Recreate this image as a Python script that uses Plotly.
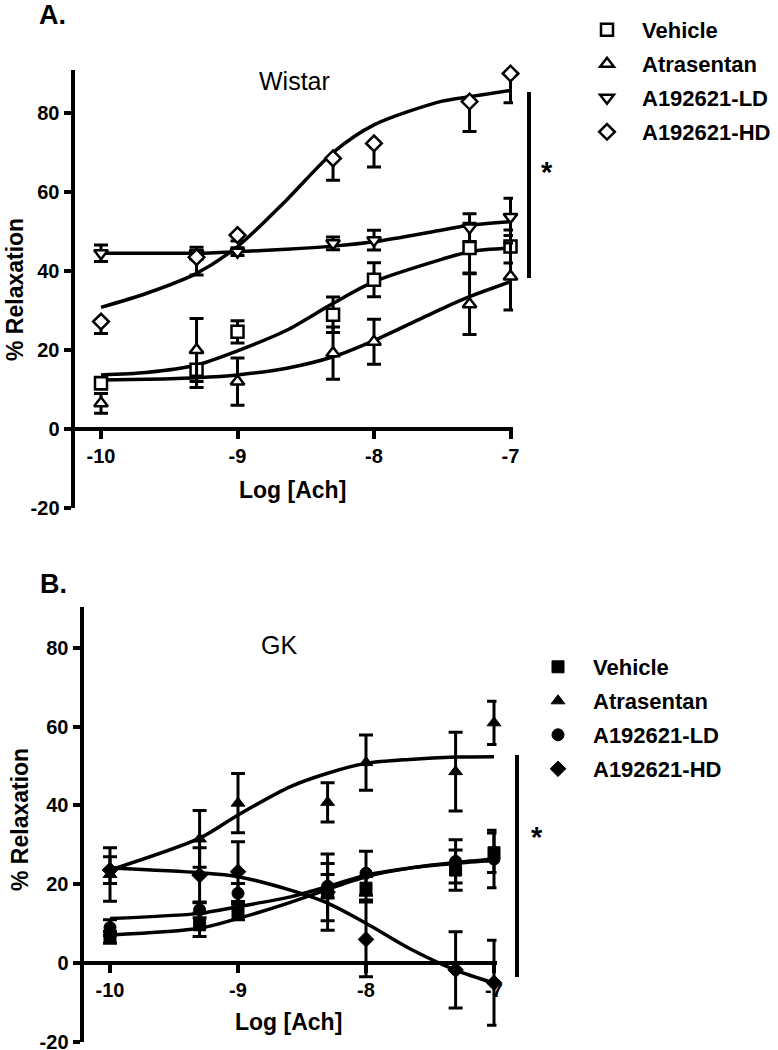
import plotly.graph_objects as go

W, H = 778, 1050
FONT = "Liberation Sans, Arial, Helvetica, sans-serif"

# ------------------------------------------------------------------ data
log_ach = [-10, -9.3, -9, -8.3, -8, -7.3, -7]
series_names = ["Vehicle", "Atrasentan", "A192621-LD", "A192621-HD"]
x_tickvals = [-10, -9, -8, -7]
x_ticktext = ["-10", "-9", "-8", "-7"]
y_tickvals = [-20, 0, 20, 40, 60, 80]
y_ticktext = ["-20", "0", "20", "40", "60", "80"]

# Panel A (Wistar): mean % relaxation and SEM
wistar_vehicle = [11.6, 15.0, 24.6, 28.9, 37.8, 45.8, 46.2]
wistar_vehicle_err = [1.5, 4.5, 2.8, 4.5, 4.3, 6.3, 4.2]
wistar_atrasentan = [6.5, 20.0, 12.0, 19.2, 22.1, 31.6, 38.6]
wistar_atrasentan_err = [2.5, 8.0, 6.0, 6.6, 5.7, 7.7, 8.5]
wistar_ld = [44.5, 44.5, 44.9, 47.0, 47.8, 51.0, 53.7]
wistar_ld_err = [2.1, 1.5, 1.0, 1.6, 2.5, 3.5, 4.7]
wistar_hd = [27.2, 43.5, 49.1, 68.5, 72.3, 82.9, 90.0]
wistar_hd_err_minus = [3.0, 4.5, 1.5, 5.5, 6.0, 7.6, 7.4]
wistar_hd_err_plus = [0, 0, 0, 0, 0, 0, 0]

# Panel A fitted curves
fit_x_a = [-10, -9.67, -9.3, -9, -8.64, -8.3, -8, -7.5, -7.3, -7]
wistar_vehicle_fit = [13.7, 14.3, 16.2, 19.8, 25.0, 31.8, 37.3, 43.0, 44.9, 45.8]
wistar_atrasentan_fit = [12.4, 12.6, 13.0, 13.7, 15.4, 18.3, 22.4, 30.5, 33.5, 37.3]
wistar_ld_fit = [44.5, 44.5, 44.5, 44.9, 45.5, 46.3, 47.4, 50.4, 51.6, 52.5]
wistar_hd_fit = [30.8, 34.3, 39.4, 46.2, 58.0, 70.0, 77.0, 83.0, 84.1, 85.7]

# Panel B (GK): mean % relaxation and SEM
gk_vehicle = [6.5, 9.7, 13.0, 18.0, 19.0, 23.6, 28.0]
gk_vehicle_err = [1.5, 3.0, 2.0, 7.3, 3.0, 5.1, 5.0]
gk_atrasentan = [22.5, 31.5, 40.6, 40.8, 50.9, 48.6, 61.0]
gk_atrasentan_err = [6.8, 7.2, 7.5, 5.0, 7.0, 10.0, 5.5]
gk_ld = [9.0, 13.5, 17.7, 19.5, 22.8, 25.8, 26.4]
gk_ld_err = [2.0, 2.0, 2.5, 3.0, 5.6, 5.5, 7.3]
gk_hd = [23.6, 22.3, 23.2, 18.0, 6.0, -1.75, -5.0]
gk_hd_err = [3.4, 7.0, 7.6, 9.7, 9.5, 9.7, 10.8]

# Panel B fitted curves
fit_x_b = [-10, -9.3, -9, -8.59, -8.3, -8, -7.66, -7.3, -7]
gk_vehicle_fit = [7.1, 8.8, 11.3, 15.4, 18.7, 21.9, 24.1, 25.3, 26.0]
gk_atrasentan_fit = [23.6, 31.7, 37.6, 44.8, 48.2, 50.7, 51.7, 52.3, 52.4]
gk_ld_fit = [11.3, 12.6, 14.3, 16.8, 19.4, 22.3, 24.1, 25.5, 26.4]
gk_hd_fit = [24.1, 22.9, 21.9, 18.5, 15.2, 10.1, 3.7, -1.8, -5.1]

# ------------------------------------------------------------------ layout helpers (pixels -> paper)
def px(x):
    return x / W


def py(y):
    return 1 - y / H


fig = go.Figure()

open_symbols = ["square", "triangle-up", "triangle-down", "diamond"]
filled_symbols = ["square", "triangle-up", "circle", "diamond"]

# ---------------- panel A
for fit in [wistar_vehicle_fit, wistar_atrasentan_fit, wistar_ld_fit, wistar_hd_fit]:
    fig.add_trace(go.Scatter(
        x=fit_x_a, y=fit, mode="lines", xaxis="x", yaxis="y",
        line=dict(color="black", width=3.5, shape="spline", smoothing=0.8),
        showlegend=False, hoverinfo="skip"))

a_vals = [wistar_vehicle, wistar_atrasentan, wistar_ld, wistar_hd]
a_errs = [
    dict(type="data", array=wistar_vehicle_err),
    dict(type="data", array=wistar_atrasentan_err),
    dict(type="data", array=wistar_ld_err),
    dict(type="data", symmetric=False, array=wistar_hd_err_plus, arrayminus=wistar_hd_err_minus),
]
for i, name in enumerate(series_names):
    err = dict(a_errs[i], color="black", thickness=3, width=7)
    fig.add_trace(go.Scatter(
        x=log_ach, y=a_vals[i], mode="markers", name=name, xaxis="x", yaxis="y",
        marker=dict(symbol=open_symbols[i], size=12, color="white",
                    line=dict(color="black", width=2.5)),
        error_y=err, cliponaxis=False, legend="legend", legendgroup="a" + str(i)))

# ---------------- panel B
for fit in [gk_vehicle_fit, gk_atrasentan_fit, gk_ld_fit, gk_hd_fit]:
    fig.add_trace(go.Scatter(
        x=fit_x_b, y=fit, mode="lines", xaxis="x2", yaxis="y2",
        line=dict(color="black", width=3.5, shape="spline", smoothing=0.8),
        showlegend=False, hoverinfo="skip"))

b_vals = [gk_vehicle, gk_atrasentan, gk_ld, gk_hd]
b_errs = [gk_vehicle_err, gk_atrasentan_err, gk_ld_err, gk_hd_err]
for i, name in enumerate(series_names):
    fig.add_trace(go.Scatter(
        x=log_ach, y=b_vals[i], mode="markers", name=name, xaxis="x2", yaxis="y2",
        marker=dict(symbol=filled_symbols[i], size=12, color="black",
                    line=dict(color="black", width=1)),
        error_y=dict(type="data", array=b_errs[i], color="black", thickness=3, width=7),
        cliponaxis=False, legend="legend2", legendgroup="b" + str(i)))

# ---------------- axes geometry (pixels)
A = dict(left=74.5, right=513, xmin_px=101, unit_x=136.5, zero_y=429, unit_y=3.95, ytop=91)
B = dict(left=83.5, right=496.5, xmin_px=110, unit_x=128.0, zero_y=963, unit_y=3.9375, ytop=90.5)


def axes_for(g):
    xr = [-10 - (g["xmin_px"] - g["left"]) / g["unit_x"], -10 + (g["right"] - g["xmin_px"]) / g["unit_x"]]
    bottom_px = g["zero_y"] + 20 * g["unit_y"]
    top_px = g["zero_y"] - g["ytop"] * g["unit_y"]
    return xr, [px(g["left"]), px(g["right"])], [py(bottom_px), py(top_px)], py(g["zero_y"])


tick_font = dict(family=FONT, size=20, color="black", weight="bold")
common_x = dict(tickvals=x_tickvals, ticktext=x_ticktext, showgrid=False, zeroline=False,
                showline=True, linecolor="black", linewidth=4, ticks="outside",
                ticklen=8, tickwidth=4, tickcolor="black", tickfont=tick_font,
                automargin=False, anchor="free", ticklabeloverflow="allow")
common_y = dict(tickvals=y_tickvals, ticktext=y_ticktext, showgrid=False, zeroline=False,
                showline=True, linecolor="black", linewidth=4, ticks="outside",
                ticklen=7, tickwidth=4, tickcolor="black", tickfont=tick_font,
                automargin=False, ticklabeloverflow="allow")

xr, xd, yd, xpos = axes_for(A)
fig.update_layout(
    xaxis=dict(common_x, range=xr, domain=xd, position=xpos),
    yaxis=dict(common_y, range=[-20, A["ytop"]], domain=yd, anchor="x"),
)
xr, xd, yd, xpos = axes_for(B)
fig.update_layout(
    xaxis2=dict(common_x, range=xr, domain=xd, position=xpos),
    yaxis2=dict(common_y, range=[-20, B["ytop"]], domain=yd, anchor="x2"),
)

# ---------------- text
bold = lambda s: dict(family=FONT, size=s, color="black", weight="bold")
reg = lambda s: dict(family=FONT, size=s, color="black")
ann = [
    dict(text="A.", x=px(37), y=py(15), xanchor="left", yanchor="middle", font=bold(27)),
    dict(text="B.", x=px(38), y=py(584), xanchor="left", yanchor="middle", font=bold(27)),
    dict(text="Wistar", x=px(294), y=py(81), xanchor="center", yanchor="middle", font=reg(25)),
    dict(text="GK", x=px(279), y=py(645), xanchor="center", yanchor="middle", font=reg(25)),
    dict(text="Log [Ach]", x=px(292), y=py(490), xanchor="center", yanchor="middle", font=bold(23)),
    dict(text="Log [Ach]", x=px(288), y=py(1022), xanchor="center", yanchor="middle", font=bold(23)),
    dict(text="% Relaxation", x=px(15), y=py(290), xanchor="center", yanchor="middle",
         textangle=-90, font=bold(23)),
    dict(text="% Relaxation", x=px(20), y=py(820), xanchor="center", yanchor="middle",
         textangle=-90, font=bold(23)),
    dict(text="*", x=px(547), y=py(172), xanchor="center", yanchor="middle", font=bold(29)),
    dict(text="*", x=px(537), y=py(837), xanchor="center", yanchor="middle", font=bold(29)),
]
for a in ann:
    a.update(xref="paper", yref="paper", showarrow=False)

shapes = [
    dict(type="line", xref="paper", yref="paper", x0=px(529), x1=px(529), y0=py(92), y1=py(278),
         line=dict(color="black", width=4)),
    dict(type="line", xref="paper", yref="paper", x0=px(517), x1=px(517), y0=py(755), y1=py(977),
         line=dict(color="black", width=4)),
]

legend_font = dict(family=FONT, size=22, color="black", weight="bold")
fig.update_layout(
    width=W, height=H,
    margin=dict(l=0, r=0, t=0, b=0, autoexpand=False),
    paper_bgcolor="white", plot_bgcolor="white",
    font=dict(family=FONT, color="black"),
    annotations=ann, shapes=shapes,
    legend=dict(x=px(572), y=py(9), xanchor="left", yanchor="top", font=legend_font,
                itemwidth=60, tracegroupgap=2.4, bgcolor="rgba(0,0,0,0)", borderwidth=0),
    legend2=dict(x=px(523), y=py(646), xanchor="left", yanchor="top", font=legend_font,
                 itemwidth=60, tracegroupgap=2.4, bgcolor="rgba(0,0,0,0)", borderwidth=0),
    showlegend=True,
)

fig.write_html("out.html", config={"displayModeBar": False},
               post_script="document.body.style.margin='0';")
